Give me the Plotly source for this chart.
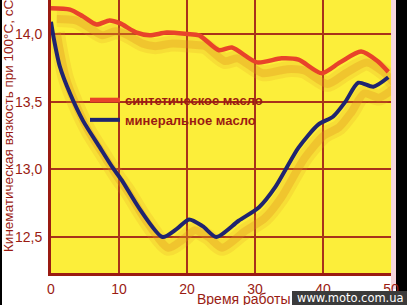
import plotly.graph_objects as go

# ---- data ----
synthetic_x = [0, 2.8, 4.7, 6.7, 8.6, 10.1, 12.6, 14.5, 17.0, 20.0, 21.8, 24.7, 26.6,
               30.3, 33.9, 36.4, 39.8, 42.5, 45.6, 48.0, 49.6]
synthetic_y = [14.19, 14.18, 14.13, 14.07, 14.10, 14.08, 14.01, 13.99, 14.01, 14.00, 13.99,
               13.88, 13.90, 13.79, 13.82, 13.81, 13.71, 13.79, 13.87, 13.80, 13.72]

mineral_x = [0, 0.4, 1.3, 2.8, 4.7, 7.2, 9.1, 10.4, 13.0, 16.4, 18.5, 20.3, 22.3, 24.3,
             27.6, 30.6, 33.0, 36.4, 39.3, 41.5, 43.3, 45.2, 47.4, 49.6]
mineral_y = [14.09, 13.97, 13.76, 13.56, 13.36, 13.16, 13.01, 12.92, 12.71, 12.50, 12.56,
             12.63, 12.58, 12.50, 12.62, 12.72, 12.87, 13.16, 13.33, 13.39, 13.50, 13.64,
             13.61, 13.68]

series_names = ["синтетическое масло", "минеральное масло"]
x_tick_vals = [0, 10, 20, 30, 40, 50]
x_tick_text = ["0", "10", "20", "30", "40", "50"]
y_tick_vals = [12.5, 13.0, 13.5, 14.0]
y_tick_text = ["12,5", "13,0", "13,5", "14,0"]
y_title = "Кинематическая вязкость при 100°C, сСт"
x_title = "Время работы"
watermark = "www.moto.com.ua"

# ---- styling ----
YELLOW = "#fcee3a"
DARKRED = "#9a1b12"
GRID = "#a8321a"
RED = "#e8432a"
NAVY = "#1f2470"
SHADOW_WIDE = "rgba(230,150,40,0.18)"
SHADOW = "rgba(226,140,30,0.30)"

X_RANGE = [0, 50]
Y_RANGE = [12.234, 14.251]
SHIFT_X = 0.85
SHIFT_Y = 0.08

fig = go.Figure()

# soft shadows (on base axes, shifted ranges)
for w, c in [(16, SHADOW_WIDE), (8, SHADOW)]:
    for xs, ys in [(synthetic_x, synthetic_y), (mineral_x, mineral_y)]:
        fig.add_trace(go.Scatter(x=xs, y=ys, mode="lines", xaxis="x", yaxis="y",
                                 line=dict(color=c, width=w, shape="spline", smoothing=0.7),
                                 showlegend=False, hoverinfo="skip"))

fig.add_trace(go.Scatter(x=synthetic_x, y=synthetic_y, mode="lines", name=series_names[0],
                         xaxis="x2", yaxis="y2",
                         line=dict(color=RED, width=4.5, shape="spline", smoothing=0.7)))
fig.add_trace(go.Scatter(x=mineral_x, y=mineral_y, mode="lines", name=series_names[1],
                         xaxis="x2", yaxis="y2",
                         line=dict(color=NAVY, width=4, shape="spline", smoothing=0.7)))

tickfont = dict(family="Liberation Sans, Arial, sans-serif", size=14, color=DARKRED)

fig.update_layout(
    width=407, height=305,
    margin=dict(l=51, r=16, t=0, b=32),
    paper_bgcolor="white",
    plot_bgcolor=YELLOW,
    xaxis=dict(range=[X_RANGE[0] - SHIFT_X, X_RANGE[1] - SHIFT_X], visible=False,
               showgrid=False, fixedrange=True),
    yaxis=dict(range=[Y_RANGE[0] + SHIFT_Y, Y_RANGE[1] + SHIFT_Y], visible=False,
               showgrid=False, fixedrange=True),
    xaxis2=dict(range=X_RANGE, overlaying="x", anchor="y2", side="bottom",
                tickvals=x_tick_vals, ticktext=x_tick_text, tickfont=tickfont,
                showgrid=True, gridcolor=GRID, gridwidth=1.5,
                showline=True, linecolor=DARKRED, linewidth=3,
                ticks="outside", ticklen=1, tickcolor="rgba(0,0,0,0)", zeroline=False),
    yaxis2=dict(range=Y_RANGE, overlaying="y", anchor="x2", side="left",
                tickvals=y_tick_vals, ticktext=y_tick_text, tickfont=tickfont,
                showgrid=True, gridcolor=GRID, gridwidth=1.5,
                showline=True, linecolor=DARKRED, linewidth=3,
                ticks="outside", ticklen=3, tickcolor="rgba(0,0,0,0)", zeroline=False),
    legend=dict(x=(85 - 51) / 340, y=1 - 85 / 273, xanchor="left", yanchor="top",
                bgcolor="rgba(0,0,0,0)", borderwidth=0, tracegroupgap=0,
                font=dict(family="Liberation Sans, Arial, sans-serif", size=13,
                          color=DARKRED, weight=700)),
    showlegend=True,
)

# yellow panel behind the legend covering the grid
fig.add_shape(type="rect", xref="paper", yref="paper",
              x0=(97 - 51) / 340, x1=(300 - 51) / 340,
              y0=1 - 129 / 273, y1=1 - 84 / 273,
              fillcolor=YELLOW, line_width=0, layer="between")

# edges of the scan (below so tick labels stay on top)
fig.add_shape(type="rect", xref="paper", yref="paper",
              x0=-51 / 340, x1=(2 - 51) / 340, y0=-32 / 273, y1=1.01,
              fillcolor="black", line_width=0, layer="below")
fig.add_shape(type="rect", xref="paper", yref="paper",
              x0=(391 - 51) / 340, x1=(396 - 51) / 340, y0=-16 / 273, y1=1.01,
              fillcolor="#f6d6dc", line_width=0, layer="below")
fig.add_shape(type="rect", xref="paper", yref="paper",
              x0=(396 - 51) / 340, x1=(408 - 51) / 340, y0=-32 / 273, y1=1.01,
              fillcolor="black", line_width=0, layer="below")

# axis titles
fig.add_annotation(text=y_title, xref="paper", yref="paper", textangle=-90,
                   x=(8 - 51) / 340, y=(273 - 254) / 273, xanchor="center", yanchor="bottom",
                   showarrow=False,
                   font=dict(family="Liberation Sans, Arial, sans-serif", size=13.5, color=DARKRED))
fig.add_annotation(text=x_title, xref="paper", yref="paper",
                   x=(195 - 51) / 340, y=-(299 - 273) / 273, xanchor="left", yanchor="middle",
                   showarrow=False,
                   font=dict(family="Liberation Sans, Arial, sans-serif", size=14, color=DARKRED))

# watermark
fig.add_shape(type="rect", xref="paper", yref="paper",
              x0=(292 - 51) / 340, x1=(408 - 51) / 340,
              y0=-33 / 273, y1=-(291 - 273) / 273,
              fillcolor="#3b3b3b", line_width=0, layer="above")
fig.add_annotation(text=watermark, xref="paper", yref="paper",
                   x=(350 - 51) / 340, y=-(298 - 273) / 273, xanchor="center", yanchor="middle",
                   showarrow=False,
                   font=dict(family="DejaVu Sans, sans-serif", size=11.5, color="white"))

fig.write_html("out.html")
